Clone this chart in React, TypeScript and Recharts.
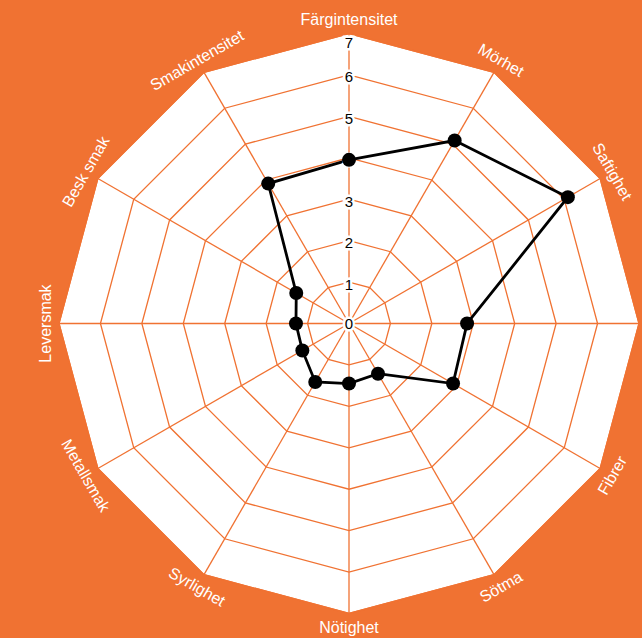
import React from 'react';
import { RadarChart, Radar, PolarGrid, PolarAngleAxis, PolarRadiusAxis } from 'recharts';

const categories = [
  'Färgintensitet', 'Mörhet', 'Saftighet', 'Fasthet', 'Fibrer', 'Sötma',
  'Nötighet', 'Syrlighet', 'Metallsmak', 'Leversmak', 'Besk smak', 'Smakintensitet',
];
const scores = [3.95, 5.1, 6.1, 2.85, 2.9, 1.4, 1.45, 1.63, 1.3, 1.28, 1.47, 3.9];
const radiusTicks = [0, 1, 2, 3, 4, 5, 6, 7];

const data = categories.map((name, i) => ({ name, value: scores[i] }));

const ORANGE = '#F07232';
const FONT = '"Liberation Sans", Arial, Helvetica, sans-serif';
const CX = 349;
const CY = 323.5;
const R = 290;

const AngleTick = (props: any) => {
  const { payload } = props;
  const coord = payload.coordinate as number; // recharts degrees, 90 = top
  const theta = ((90 - coord) % 360 + 360) % 360; // clockwise from top
  const rad = (theta * Math.PI) / 180;
  const dist = R + 14;
  const x = CX + dist * Math.sin(rad);
  const y = CY - dist * Math.cos(rad);
  const c = Math.cos(rad);
  let rot: number;
  if (c > 1e-6) rot = theta > 180 ? theta - 360 : theta;
  else if (c < -1e-6) rot = theta - 180;
  else rot = theta > 180 ? -90 : 90;
  return (
    <text
      x={x}
      y={y}
      textAnchor="middle"
      dominantBaseline="central"
      fill="#ffffff"
      fontSize={16}
      fontFamily={FONT}
      transform={`rotate(${rot}, ${x}, ${y})`}
    >
      {payload.value}
    </text>
  );
};

const RadiusTick = (props: any) => {
  const { x, y, payload } = props;
  const isMax = payload.value === radiusTicks[radiusTicks.length - 1];
  const yy = y + (isMax ? 9 : payload.value === 0 ? 0 : 2);
  return (
    <text
      x={x}
      y={yy}
      textAnchor="middle"
      dominantBaseline="central"
      fill="#000"
      stroke="#fff"
      strokeWidth={5}
      paintOrder="stroke"
      fontSize={15}
      fontFamily={FONT}
    >
      {payload.value}
    </text>
  );
};

const BlackDot = (props: any) => {
  const { cx, cy, index } = props;
  if (cx == null || cy == null) return <g key={`d-${index}`} />;
  return <circle key={`d-${index}`} cx={cx} cy={cy} r={7} fill="#000" />;
};

export default function App() {
  return (
    <div style={{ position: 'absolute', left: 0, top: 0, width: 642, height: 638, background: ORANGE, overflow: 'hidden' }}>
      <RadarChart width={642} height={638} data={data} cx={CX} cy={CY} outerRadius={R} margin={{ top: 0, right: 0, bottom: 0, left: 0 }}>
        <PolarGrid gridType="polygon" stroke={ORANGE} strokeWidth={1.3} fill="#ffffff" fillOpacity={1} />
        <PolarAngleAxis dataKey="name" tick={<AngleTick />} tickLine={false} axisLine={false} />
        <PolarRadiusAxis
          angle={90}
          domain={[0, 7]}
          ticks={radiusTicks as any}
          tickCount={8}
          axisLine={false}
          tick={<RadiusTick />}
        />
        <Radar
          dataKey="value"
          stroke="#000"
          strokeWidth={2.8}
          fill="none"
          fillOpacity={0}
          dot={BlackDot}
          isAnimationActive={false}
        />
      </RadarChart>
    </div>
  );
}
